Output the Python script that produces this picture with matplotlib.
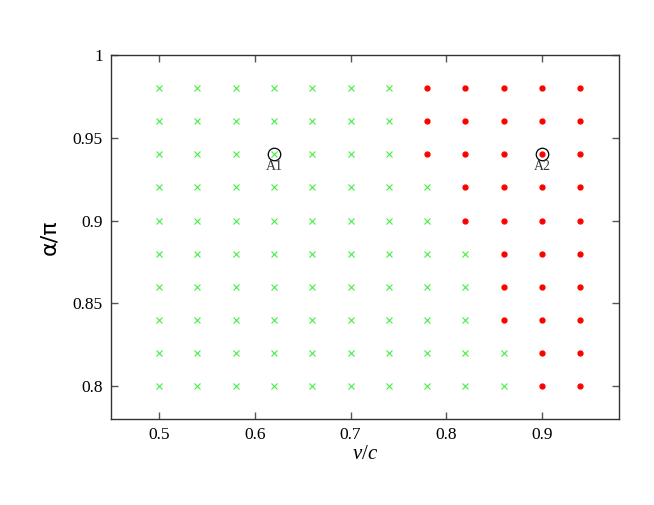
import numpy as np
import matplotlib
matplotlib.use('Agg')
import matplotlib.pyplot as plt

plt.rcParams['font.family'] = ['Liberation Serif', 'DejaVu Serif']
plt.rcParams['mathtext.fontset'] = 'custom'
plt.rcParams['mathtext.it'] = 'Liberation Serif:italic'
plt.rcParams['mathtext.rm'] = 'Liberation Serif'

# grid of simulated cases
v_vals = [0.50, 0.54, 0.58, 0.62, 0.66, 0.70, 0.74, 0.78, 0.82, 0.86, 0.90, 0.94]
alpha_vals = [0.80, 0.82, 0.84, 0.86, 0.88, 0.90, 0.92, 0.94, 0.96, 0.98]
# first v/c (per alpha row) where the red outcome starts
red_from = [0.90, 0.90, 0.86, 0.86, 0.86, 0.82, 0.82, 0.78, 0.78, 0.78]

marked_names = ['A1', 'A2']
marked_v = [0.62, 0.90]
marked_alpha = [0.94, 0.94]

gx, gy, rx, ry = [], [], [], []
for a, thr in zip(alpha_vals, red_from):
    for v in v_vals:
        if v >= thr - 1e-9:
            rx.append(v); ry.append(a)
        else:
            gx.append(v); gy.append(a)

fig = plt.figure(figsize=(6.54, 5.05), dpi=100)
ax = fig.add_axes([0.170, 0.170, 0.776, 0.721])

ax.plot(gx, gy, 'x', color='#44ee44', markersize=4.5, markeredgewidth=0.8, linestyle='none')
ax.plot(rx, ry, 'o', color='red', markersize=3.5, linestyle='none')
ax.plot(marked_v, marked_alpha, 'o', markerfacecolor='none', markeredgecolor='black',
        markersize=9, markeredgewidth=0.9, linestyle='none')
for name, v, a in zip(marked_names, marked_v, marked_alpha):
    ax.text(v, a - 0.0075, name, ha='center', va='center', fontsize=10, color='#333333')

ax.set_xlim(0.45, 0.98)
ax.set_ylim(0.78, 1.0)
ax.set_xticks([0.5, 0.6, 0.7, 0.8, 0.9])
ax.set_xticklabels(['0.5', '0.6', '0.7', '0.8', '0.9'])
ax.set_yticks([0.8, 0.85, 0.9, 0.95, 1.0])
ax.set_yticklabels(['0.8', '0.85', '0.9', '0.95', '1'])
ax.tick_params(direction='in', top=True, right=True, length=5, width=1.0,
               color='#555555', labelsize=12.5, pad=6)
for spine in ax.spines.values():
    spine.set_linewidth(1.0)
    spine.set_color('#333333')

ax.set_xlabel('$v/c$', fontsize=15, labelpad=1)
ax.set_ylabel('α/π', fontsize=16, family=['DejaVu Sans'], labelpad=10)

fig.savefig('out.png', dpi=100)
